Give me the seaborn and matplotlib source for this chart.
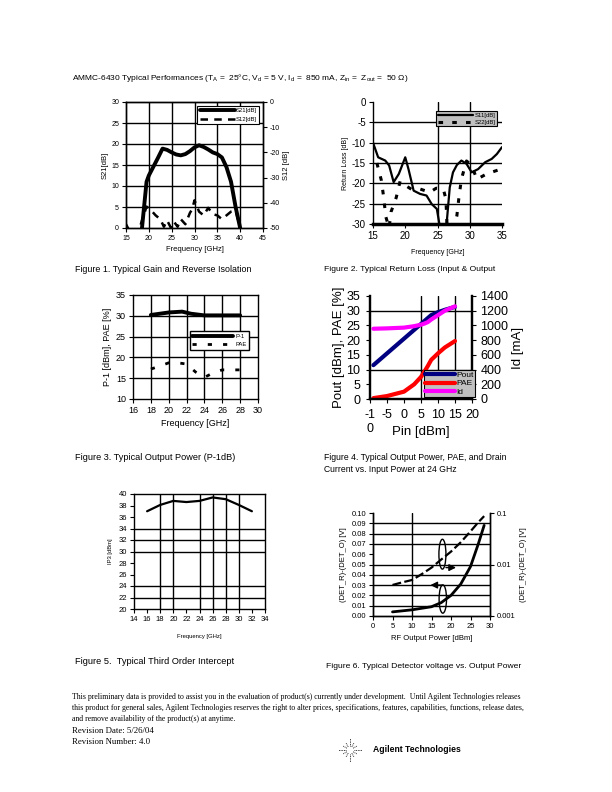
import matplotlib
matplotlib.use("Agg")
import matplotlib.pyplot as plt
import numpy as np
import seaborn as sns
from matplotlib.patches import Ellipse

# ---------------- data ----------------
# Figure 1: gain / reverse isolation
s21_freq = [18.5, 19.0, 19.5, 20.0, 21.0, 22.0, 23.0, 24.0, 25.0, 26.0, 27.0, 28.0,
            29.0, 30.0, 31.0, 32.0, 33.0, 34.0, 35.0, 36.0, 37.0, 38.0, 39.0, 40.0]
s21 = [0.0, 5.5, 11.0, 12.5, 14.6, 16.7, 18.9, 18.6, 18.0, 17.5, 17.3, 17.6,
       18.3, 19.2, 19.7, 19.3, 18.7, 18.0, 17.6, 16.8, 14.5, 11.0, 5.0, 0.0]
s12_freq = [15.0, 16.0, 17.0, 18.0, 18.5, 19.5, 20.5, 21.5, 22.5, 23.3, 24.0, 24.8,
            25.5, 26.3, 27.0, 28.0, 29.0, 29.5, 30.0, 31.0, 32.0, 33.0, 34.0, 35.0,
            36.0, 37.0, 38.0, 39.0, 40.0]
s12 = [-48.5, -52.0, -53.0, -50.0, -47.0, -41.5, -43.0, -45.0, -46.5, -49.5, -47.0, -49.8,
       -47.5, -49.5, -46.5, -48.5, -44.0, -42.5, -39.0, -43.5, -45.0, -42.0, -44.5, -45.0,
       -46.5, -45.0, -43.5, -43.0, -50.0]

# Figure 2: return loss
s11_freq = [15.0, 15.8, 16.9, 17.5, 18.2, 19.0, 20.0, 20.5, 21.3, 22.3, 23.3, 24.1, 24.9,
            25.5, 26.3, 26.9, 27.4, 28.0, 28.7, 29.5, 30.3, 31.3, 32.4, 33.4, 34.2, 35.0]
s11 = [-10.0, -13.6, -14.4, -15.6, -19.7, -17.7, -13.6, -16.5, -21.8, -22.6, -23.0, -25.1, -26.3,
       -32.0, -32.0, -21.0, -17.3, -15.5, -14.4, -15.2, -17.3, -16.5, -14.8, -14.0, -12.8, -11.1]
s22_freq = [15.6, 16.3, 16.6, 17.0, 17.5, 17.8, 18.6, 19.2, 20.0, 21.0, 22.3, 23.8, 24.8,
            25.9, 26.3, 26.5, 27.5, 28.0, 28.3, 28.7, 29.5, 30.3, 31.1, 32.6, 35.0]
s22 = [-15.0, -19.3, -22.8, -28.3, -31.0, -27.0, -23.5, -19.5, -20.5, -21.5, -21.4, -22.2, -21.2,
       -21.4, -23.8, -31.0, -31.0, -28.0, -23.8, -19.0, -14.5, -15.6, -19.0, -17.7, -16.4]

# Figure 3: P-1dB and PAE
p1_freq = [18, 20, 21.5, 22.5, 24, 26, 28]
p1 = [30.2, 30.8, 31.0, 30.5, 30.1, 30.1, 30.1]
pae_freq = [18, 19, 20, 21, 22, 23, 24, 25, 26, 27, 28]
pae = [17.2, 17.9, 18.7, 18.7, 18.4, 16.5, 15.2, 16.3, 17.0, 17.0, 17.0]

# Figure 4: power sweep at 24 GHz
pin = [-9, -5, 0, 3, 5, 6, 7, 8, 10, 12, 15]
pout = [11.5, 15.5, 20.5, 23.5, 25.5, 26.5, 27.5, 28.5, 29.5, 30.3, 31.3]
pae_pin = [0.3, 1.0, 2.5, 5.0, 7.5, 9.3, 11.2, 13.3, 15.5, 17.5, 19.7]
idrain = [955, 960, 970, 990, 1010, 1025, 1045, 1080, 1140, 1200, 1260]
pin_ticklabels = ["-1\n0", "-5", "0", "5", "10", "15", "20"]

# Figure 5: IP3
ip3_freq = [16, 18, 20, 22, 24, 26, 28, 30, 32]
ip3 = [37.0, 38.1, 38.8, 38.6, 38.8, 39.4, 39.1, 38.1, 37.0]

# Figure 6: detector voltage
det_pout = [5, 7.5, 10, 12.5, 15, 17.5, 20, 22.5, 25, 27, 28.5]
det_lin = [0.004, 0.005, 0.006, 0.0075, 0.009, 0.013, 0.02, 0.031, 0.048, 0.07, 0.088]
det_log = [0.004, 0.0045, 0.005, 0.0065, 0.0087, 0.0125, 0.0178, 0.027, 0.044, 0.066, 0.087]

# ---------------- style ----------------
sns.set_style("ticks", {"axes.edgecolor": "black", "xtick.color": "black",
                        "ytick.color": "black", "text.color": "black",
                        "axes.labelcolor": "black"})
plt.rcParams["font.family"] = ["Liberation Sans", "DejaVu Sans"]
plt.rcParams["mathtext.default"] = "regular"
plt.rcParams["axes.unicode_minus"] = False
SERIF = ["Liberation Serif", "DejaVu Serif"]

W, H = 612, 792
fig = plt.figure(figsize=(6.12, 7.92), dpi=100)


def box(x0, y0, x1, y1):
    return [x0 / W, 1 - y1 / H, (x1 - x0) / W, (y1 - y0) / H]


def ftext(x, y, s, **kw):
    kw.setdefault("va", "center")
    fig.text(x / W, 1 - y / H, s, **kw)


def frame(ax, lw=1.0):
    for sp in ax.spines.values():
        sp.set_visible(True)
        sp.set_linewidth(lw)
        sp.set_color("black")
    ax.tick_params(direction="out", length=3, width=0.8, pad=2)


# header
ftext(72, 78, "AMMC-6430 Typical Performances (T$_{A}$ =  25°C, V$_{d}$ = 5 V, I$_{d}$ =  850 mA, "
      "Z$_{in}$ =  Z$_{out}$ =  50 Ω)", fontsize=6.0)

# ---- Figure 1 ----
ax1 = fig.add_axes(box(126, 102, 263, 228))
frame(ax1)
ax1b = ax1.twinx()
frame(ax1b)
for g in [20, 25, 30, 35, 40]:
    ax1.axvline(g, color="black", lw=1.0, zorder=0)
for g in [5, 10, 15, 20, 25]:
    ax1.axhline(g, color="black", lw=1.0, zorder=0)
sns.lineplot(x=s21_freq, y=s21, ax=ax1, color="black", lw=2.8, sort=False)
sns.lineplot(x=s12_freq, y=s12, ax=ax1b, color="black", lw=1.8,
             linestyle=(0, (3, 2.5)), sort=False)
ax1.set_xlim(15, 45)
ax1.set_ylim(0, 30)
ax1b.set_ylim(-50, 0)
ax1.set_xticks(range(15, 50, 5))
ax1.set_yticks(range(0, 35, 5))
ax1b.set_yticks(range(-50, 10, 10))
ax1.tick_params(labelsize=5)
ax1b.tick_params(labelsize=5)
ax1.set_xlabel("Frequency [GHz]", fontsize=5.5, labelpad=3)
ax1.set_ylabel("S21[dB]", fontsize=5.5, labelpad=2)
ax1b.set_ylabel("S12 [dB]", fontsize=5.5, labelpad=2)
leg = ax1.legend(handles=[ax1.lines[-1], ax1b.lines[-1]], labels=["S21[dB]", "S12[dB]"],
                 loc="upper right", bbox_to_anchor=(0.995, 0.995), fontsize=4.2,
                 handlelength=6, frameon=True, fancybox=False, framealpha=1,
                 edgecolor="black", borderpad=0.4, labelspacing=0.6, handletextpad=0.2)
leg.get_frame().set_linewidth(0.8)

# ---- Figure 2 ----
ax2 = fig.add_axes(box(373, 102, 502, 224))
frame(ax2)
ax2.spines["top"].set_visible(False)
ax2.spines["right"].set_visible(False)
ax2.spines["bottom"].set_linewidth(2.5)
for g in [25, 30]:
    ax2.axvline(g, color="black", lw=1.0, zorder=0)
for g in [-5, -10, -15, -20, -25]:
    ax2.axhline(g, color="black", lw=1.0, zorder=0)
sns.lineplot(x=s11_freq, y=s11, ax=ax2, color="black", lw=1.6, sort=False)
sns.lineplot(x=s22_freq, y=s22, ax=ax2, color="black", lw=2.2,
             linestyle=(0, (1.5, 3)), sort=False)
ax2.set_xlim(15, 35)
ax2.set_ylim(-30, 0)
ax2.set_xticks(range(15, 40, 5))
ax2.set_yticks(range(-30, 5, 5))
ax2.tick_params(labelsize=7)
ax2.set_xlabel("Frequency [GHz]", fontsize=5.0, labelpad=6)
ax2.set_ylabel("Return Loss [dB]", fontsize=5.0, labelpad=2)
leg = ax2.legend(handles=ax2.lines[-2:], labels=["S11[dB]", "S22[dB]"],
                 loc="upper right", bbox_to_anchor=(0.985, 0.95), fontsize=4.2,
                 handlelength=6, frameon=True, fancybox=False, framealpha=1,
                 facecolor="#c0c0c0", edgecolor="black", borderpad=0.3,
                 labelspacing=0.3, handletextpad=0.2)
leg.get_frame().set_linewidth(0.8)

# ---- Figure 3 ----
ax3 = fig.add_axes(box(133, 295, 258, 399))
frame(ax3)
for g in range(18, 30, 2):
    ax3.axvline(g, color="black", lw=1.0, zorder=0)
for g in [15, 20, 25, 30]:
    ax3.axhline(g, color="black", lw=1.0, zorder=0)
sns.lineplot(x=p1_freq, y=p1, ax=ax3, color="black", lw=2.8, sort=False)
sns.lineplot(x=pae_freq, y=pae, ax=ax3, color="black", lw=2.0,
             linestyle=(0, (1.5, 4)), sort=False)
ax3.set_xlim(16, 30)
ax3.set_ylim(10, 35)
ax3.set_xticks(range(16, 32, 2))
ax3.set_yticks(range(10, 40, 5))
ax3.tick_params(labelsize=6.5)
ax3.set_xlabel("Frequency [GHz]", fontsize=6.5, labelpad=3)
ax3.set_ylabel("P-1 [dBm], PAE [%]", fontsize=6.5, labelpad=3)
leg = ax3.legend(handles=ax3.lines[-2:], labels=["P-1", "PAE"],
                 loc="upper left", bbox_to_anchor=(0.43, 0.68), fontsize=4.2,
                 handlelength=7, frameon=True, fancybox=False, framealpha=1,
                 edgecolor="black", borderpad=0.4, labelspacing=0.6, handletextpad=0.5)
leg.get_frame().set_linewidth(1.0)

# ---- Figure 4 ----
ax4 = fig.add_axes(box(370, 296, 472, 399))
frame(ax4, lw=1.6)
ax4.spines["top"].set_visible(False)
ax4b = ax4.twinx()
frame(ax4b, lw=1.6)
ax4b.spines["top"].set_visible(False)
for g in [5, 10, 15]:
    ax4.axvline(g, color="black", lw=1.0, zorder=0)
for g in [10, 30]:
    ax4.axhline(g, color="black", lw=1.0, zorder=0)
sns.lineplot(x=pin, y=pout, ax=ax4, color="#000080", lw=3.0, sort=False)
sns.lineplot(x=pin, y=pae_pin, ax=ax4, color="#ff0000", lw=3.0, sort=False)
sns.lineplot(x=pin, y=idrain, ax=ax4b, color="#ff00ff", lw=3.0, sort=False)
ax4.set_xlim(-10, 20)
ax4.set_ylim(0, 35)
ax4b.set_ylim(0, 1400)
ax4.set_xticks(range(-10, 25, 5))
ax4.set_xticklabels(pin_ticklabels)
ax4.set_yticks(range(0, 40, 5))
ax4b.set_yticks(range(0, 1600, 200))
ax4.tick_params(labelsize=9, pad=4)
ax4b.tick_params(labelsize=9, pad=3)
ax4.set_xlabel("Pin [dBm]", fontsize=9.5, labelpad=-6)
ax4.set_ylabel("Pout [dBm], PAE [%]", fontsize=9.5, labelpad=1)
ax4b.set_ylabel("Id [mA]", fontsize=9.5, labelpad=3)
leg = ax4b.legend(handles=ax4.lines[-2:] + ax4b.lines[-1:], labels=["Pout", "PAE", "Id"],
                  loc="upper left", bbox_to_anchor=(0.53, 0.28), fontsize=6.0,
                  handlelength=3.6, frameon=True, fancybox=False, framealpha=1,
                  facecolor="#c0c0c0", edgecolor="black", borderpad=0.15,
                  labelspacing=0.05, handletextpad=0.15, borderaxespad=0)
leg.get_frame().set_linewidth(0.8)

# ---- Figure 5 ----
ax5 = fig.add_axes(box(134, 494, 265, 609))
frame(ax5)
for g in [18, 20, 24, 26, 28, 30]:
    ax5.axvline(g, color="black", lw=1.0, zorder=0)
for g in [22, 24, 30, 32, 34]:
    ax5.axhline(g, color="black", lw=1.0, zorder=0)
sns.lineplot(x=ip3_freq, y=ip3, ax=ax5, color="black", lw=1.6, sort=False)
ax5.set_xlim(14, 34)
ax5.set_ylim(20, 40)
ax5.set_xticks(range(14, 36, 2))
ax5.set_yticks(range(20, 42, 2))
ax5.tick_params(labelsize=5.5)
ax5.set_xlabel("Frequency [GHz]", fontsize=4.2, labelpad=8)
ax5.set_ylabel("IP3 [dBm]", fontsize=4.2, labelpad=4)

# ---- Figure 6 ----
ax6 = fig.add_axes(box(373, 513, 490, 616))
frame(ax6)
ax6.spines["top"].set_visible(False)
ax6b = ax6.twinx()
frame(ax6b)
ax6b.spines["top"].set_visible(False)
ax6.axvline(10, color="black", lw=1.0, zorder=0)
for g in [0.01, 0.02, 0.03, 0.04, 0.05, 0.07, 0.08, 0.09]:
    ax6.axhline(g, color="black", lw=1.0, zorder=0)
sns.lineplot(x=det_pout, y=det_lin, ax=ax6, color="black", lw=2.0, sort=False)
sns.lineplot(x=det_pout, y=det_log, ax=ax6b, color="black", lw=1.6,
             linestyle=(0, (4, 1.5)), sort=False)
ax6.set_xlim(0, 30)
ax6.set_ylim(0, 0.10)
ax6b.set_yscale("log")
ax6b.set_ylim(0.001, 0.1)
ax6b.set_yticks([0.001, 0.01, 0.1])
ax6b.set_yticklabels(["0.001", "0.01", "0.1"])
ax6b.minorticks_off()
ax6.set_xticks(range(0, 35, 5))
ax6.set_yticks(np.round(np.arange(0, 0.105, 0.01), 2))
ax6.set_yticklabels([f"{v:.2f}" for v in np.arange(0, 0.105, 0.01)])
ax6.tick_params(labelsize=5.5)
ax6b.tick_params(labelsize=5.5)
ax6.set_xlabel("RF Output Power [dBm]", fontsize=5.5, labelpad=4)
ax6.set_ylabel("(DET_R)-(DET_O) [V]", fontsize=5.5, labelpad=3)
ax6b.set_ylabel("(DET_R)-(DET_O) [V]", fontsize=5.5, labelpad=3)
ax6.add_patch(Ellipse((17.8, 0.060), 1.8, 0.029, fill=False, ec="black", lw=1.0))
ax6.add_patch(Ellipse((17.9, 0.0165), 1.9, 0.0275, fill=False, ec="black", lw=1.0))
ax6.annotate("", xy=(22.0, 0.047), xytext=(18.0, 0.047),
             arrowprops=dict(arrowstyle="-|>", color="black", lw=1.0, mutation_scale=10))
ax6.annotate("", xy=(14.0, 0.030), xytext=(18.3, 0.030),
             arrowprops=dict(arrowstyle="-|>", color="black", lw=1.0, mutation_scale=10))

# ---- captions ----
ftext(75, 270, "Figure 1. Typical Gain and Reverse Isolation", fontsize=6.4)
ftext(324, 270, "Figure 2. Typical Return Loss (Input & Output", fontsize=6.1)
ftext(75, 457, "Figure 3. Typical Output Power (P-1dB)", fontsize=6.6)
ftext(324, 457, "Figure 4. Typical Output Power, PAE, and Drain", fontsize=6.2)
ftext(324, 470, "Current vs. Input Power at 24 GHz", fontsize=6.2)
ftext(75, 662, "Figure 5.  Typical Third Order Intercept", fontsize=6.7)
ftext(326, 666, "Figure 6. Typical Detector voltage vs. Output Power", fontsize=6.1)

# ---- footer ----
foot = dict(fontsize=5.6, family=SERIF)
ftext(72, 697, "This preliminary data is provided to assist you in the evaluation of product(s) currently "
      "under development.  Until Agilent Technologies releases", **foot)
ftext(72, 708, "this product for general sales, Agilent Technologies reserves the right to alter prices, "
      "specifications, features, capabilities, functions, release dates,", **foot)
ftext(72, 719, "and remove availability of the product(s) at anytime.", **foot)
ftext(72, 731, "Revision Date: 5/26/04", fontsize=6.3, family=SERIF)
ftext(72, 742, "Revision Number: 4.0", fontsize=6.3, family=SERIF)

# logo
axl = fig.add_axes(box(338, 738, 362, 762))
axl.set_axis_off()
for a in np.linspace(0, 2 * np.pi, 12, endpoint=False):
    r_out = 1.0 if int(round(a / (np.pi / 6))) % 3 == 0 else 0.7
    axl.plot([0.3 * np.cos(a), r_out * np.cos(a)], [0.3 * np.sin(a), r_out * np.sin(a)],
             color="black", lw=0.6, linestyle=(0, (1, 1)))
axl.set_xlim(-1, 1)
axl.set_ylim(-1, 1)
ftext(373, 749, "Agilent Technologies", fontsize=6.2, fontweight="bold")

fig.savefig("out.png", dpi=100)
